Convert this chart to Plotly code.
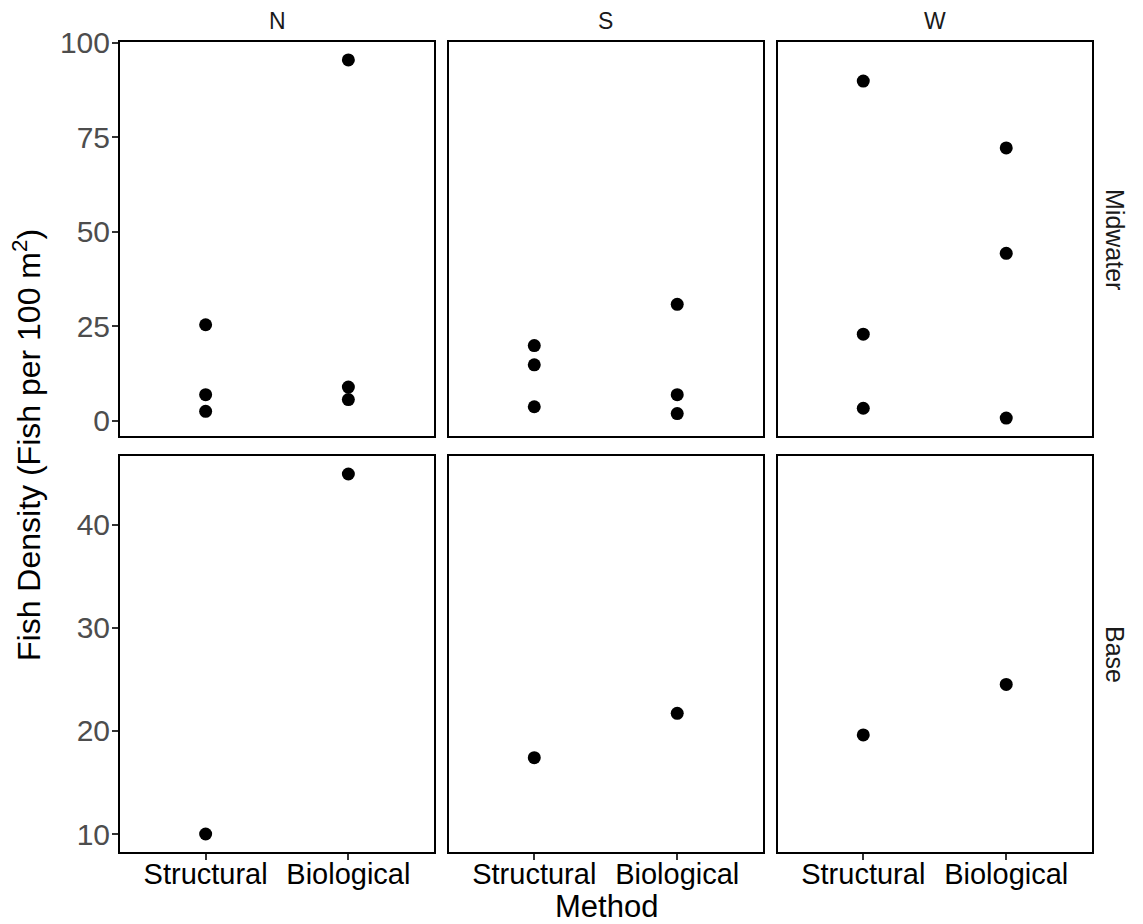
import plotly.graph_objects as go

W, H = 1143, 924

methods = ["Structural", "Biological"]
columns = ["N", "S", "W"]
rows = ["Midwater", "Base"]

# Midwater values per site and method
mid_N_struct = [25.4, 6.9, 2.5]
mid_N_bio = [95.5, 8.9, 5.6]
mid_S_struct = [19.9, 14.8, 3.7]
mid_S_bio = [30.8, 6.9, 1.9]
mid_W_struct = [89.9, 22.9, 3.3]
mid_W_bio = [72.2, 44.3, 0.7]

# Base values per site and method
base_N_struct = [10.0]
base_N_bio = [44.9]
base_S_struct = [17.4]
base_S_bio = [21.7]
base_W_struct = [19.6]
base_W_bio = [24.5]

mid_ticks = [0, 25, 50, 75, 100]
base_ticks = [10, 20, 30, 40]

data = {
    ("Midwater", "N"): (mid_N_struct, mid_N_bio),
    ("Midwater", "S"): (mid_S_struct, mid_S_bio),
    ("Midwater", "W"): (mid_W_struct, mid_W_bio),
    ("Base", "N"): (base_N_struct, base_N_bio),
    ("Base", "S"): (base_S_struct, base_S_bio),
    ("Base", "W"): (base_W_struct, base_W_bio),
}

# panel pixel geometry (page pixels)
col_px = [(120, 434), (448.5, 763), (777.5, 1092)]
row_px = [(42, 436), (456, 852)]

def fx(p):
    return p / W

def fy(p):
    return 1 - p / H

def yrange(row):
    vals = []
    for c in columns:
        s, b = data[(row, c)]
        vals += s + b
    lo, hi = min(vals), max(vals)
    r = hi - lo
    return [lo - 0.05 * r, hi + 0.05 * r]

fig = go.Figure()
layout = {}
font_fam = "Liberation Sans, Arial, Helvetica, sans-serif"
idx = 0
for ri, row in enumerate(rows):
    yr = yrange(row)
    for ci, col in enumerate(columns):
        idx += 1
        xa = "x" if idx == 1 else f"x{idx}"
        ya = "y" if idx == 1 else f"y{idx}"
        s, b = data[(row, col)]
        xs = ["Structural"] * len(s) + ["Biological"] * len(b)
        ys = s + b
        fig.add_trace(go.Scatter(x=xs, y=ys, mode="markers", xaxis=xa, yaxis=ya,
                                 marker=dict(color="black", size=13),
                                 showlegend=False, hoverinfo="x+y"))
        x0, x1 = col_px[ci]
        y0, y1 = row_px[ri]
        bottom = ri == 1
        left = ci == 0
        layout["xaxis" if idx == 1 else f"xaxis{idx}"] = dict(
            domain=[fx(x0), fx(x1)], anchor=ya, type="category", automargin=False,
            categoryorder="array", categoryarray=methods,
            range=[-0.6, 1.6], showgrid=False, zeroline=False,
            showline=True, mirror=True, linecolor="black", linewidth=2,
            ticks="outside" if bottom else "", ticklen=6, tickwidth=1.5, tickcolor="#333333",
            showticklabels=bottom, ticklabelstandoff=-11,
            tickfont=dict(family=font_fam, size=29, color="black"),
        )
        layout["yaxis" if idx == 1 else f"yaxis{idx}"] = dict(
            domain=[fy(y1), fy(y0)], anchor=xa, range=yr, automargin=False,
            tickmode="array", tickvals=mid_ticks if ri == 0 else base_ticks,
            showgrid=False, zeroline=False,
            showline=True, mirror=True, linecolor="black", linewidth=2,
            ticks="outside" if left else "", ticklen=6, tickwidth=1.5, tickcolor="#333333",
            showticklabels=left, ticklabelstandoff=-4,
            tickfont=dict(family=font_fam, size=30, color="#4D4D4D"),
        )

annotations = []
for ci, col in enumerate(columns):
    x0, x1 = col_px[ci]
    annotations.append(dict(text=col, x=fx((x0 + x1) / 2), y=fy(21),
                            xref="paper", yref="paper", showarrow=False,
                            font=dict(family=font_fam, size=23, color="#1A1A1A"),
                            xanchor="center", yanchor="middle"))
for ri, row in enumerate(rows):
    y0, y1 = row_px[ri]
    annotations.append(dict(text=row, x=fx(1115), y=fy((y0 + y1) / 2),
                            xref="paper", yref="paper", showarrow=False, textangle=90,
                            font=dict(family=font_fam, size=25, color="#1A1A1A"),
                            xanchor="center", yanchor="middle"))
annotations.append(dict(text="Fish Density (Fish per 100 m<sup>2</sup>)", x=fx(27),
                        y=fy(445), xref="paper", yref="paper", showarrow=False,
                        textangle=-90, font=dict(family=font_fam, size=32, color="black"),
                        xanchor="center", yanchor="middle"))
annotations.append(dict(text="Method", x=fx(606), y=fy(906), xref="paper", yref="paper",
                        showarrow=False, font=dict(family=font_fam, size=31, color="black"),
                        xanchor="center", yanchor="middle"))

fig.update_layout(**layout)
fig.update_layout(template="none", width=W, height=H,
                  margin=dict(l=0, r=0, t=0, b=0, pad=0, autoexpand=False),
                  plot_bgcolor="white", paper_bgcolor="white",
                  annotations=annotations, showlegend=False)
fig.write_html(
    "out.html",
    config={"displayModeBar": False},
    post_script=(
        "document.body.style.margin='0';"
        "document.body.style.overflow='hidden';"
        "var d=document.getElementById('{plot_id}');"
        "d.style.position='absolute';d.style.top='0px';d.style.left='0px';"
    ),
)
